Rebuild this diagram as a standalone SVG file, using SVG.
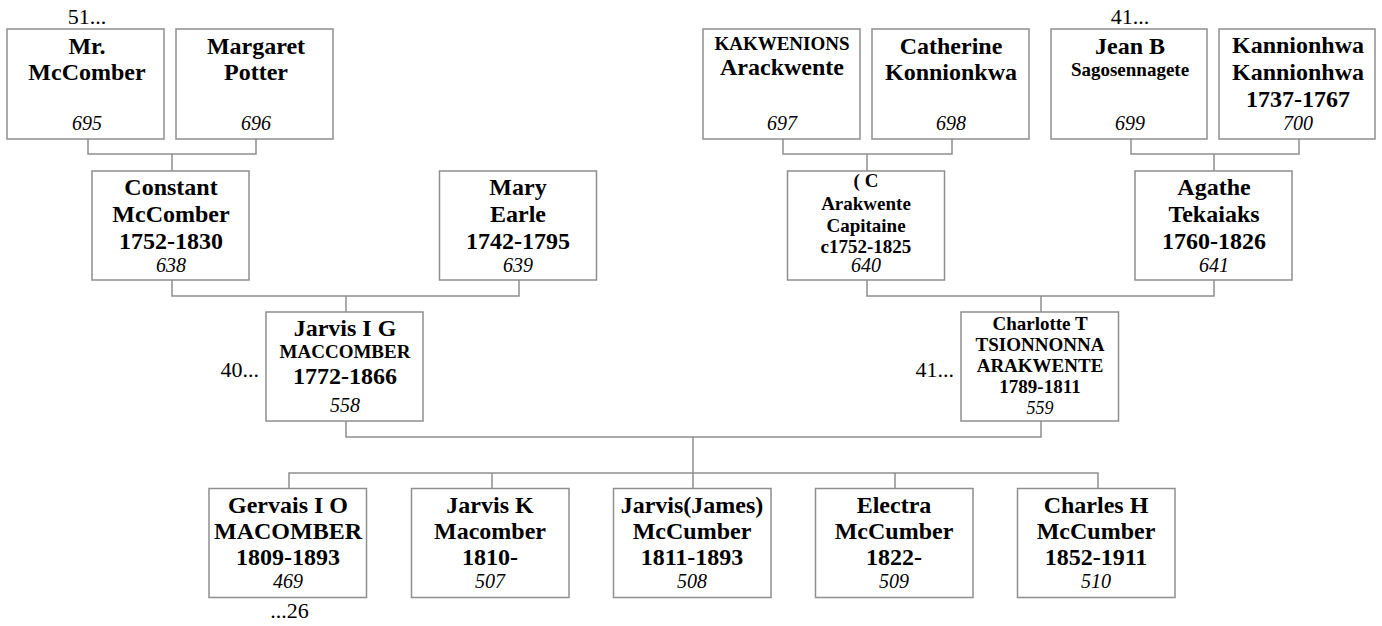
<svg xmlns="http://www.w3.org/2000/svg" width="1382" height="626" viewBox="0 0 1382 626">
<style>
.box{fill:#fff;stroke:#8f8f8f;stroke-width:1.5}
.ln{fill:none;stroke:#8f8f8f;stroke-width:1.5}
text{font-family:"Liberation Serif","Times New Roman",serif;fill:#000;text-anchor:middle}
.b{font-weight:bold;font-size:24px}
.s{font-weight:bold;font-size:19px}
.n{font-style:italic;font-size:20px}
.lab{font-size:22px}
</style>
<rect width="1382" height="626" fill="#fff"/>
<g id="connectors">
<path class="ln" d="M88 139V154H256V139M172 154V171"/>
<path class="ln" d="M783 139V154H952V139M867 154V171"/>
<path class="ln" d="M1131 139V154H1299V139M1214 154V171"/>
<path class="ln" d="M172 280V296H519V280M346 296V312"/>
<path class="ln" d="M867 280V296H1214V280M1041 296V312"/>
<path class="ln" d="M346 421V437H1041V421M693 437V473"/>
<path class="ln" d="M289 488V473H1098V488M492 473V488M693 473V488M895 473V488"/>
</g>
<g id="n695"><rect class="box" x="7" y="29" width="157" height="110"/><text class="b" x="87" y="54">Mr.</text><text class="b" x="87" y="80">McComber</text><text class="n" x="87" y="130">695</text></g>
<g id="n696"><rect class="box" x="176" y="29" width="157" height="110"/><text class="b" x="256" y="54">Margaret</text><text class="b" x="256" y="80">Potter</text><text class="n" x="256" y="130">696</text></g>
<g id="n697"><rect class="box" x="703" y="29" width="157" height="110"/><text class="s" x="782" y="49.5">KAKWENIONS</text><text class="b" x="782" y="74.5">Arackwente</text><text class="n" x="782" y="130">697</text></g>
<g id="n698"><rect class="box" x="872" y="29" width="157" height="110"/><text class="b" x="951" y="54">Catherine</text><text class="b" x="951" y="80">Konnionkwa</text><text class="n" x="951" y="130">698</text></g>
<g id="n699"><rect class="box" x="1051" y="29" width="156" height="110"/><text class="b" x="1130" y="53.5">Jean B</text><text class="s" x="1130" y="76">Sagosennagete</text><text class="n" x="1130" y="130">699</text></g>
<g id="n700"><rect class="box" x="1219" y="29" width="156" height="110"/><text class="b" x="1298" y="53">Kannionhwa</text><text class="b" x="1298" y="80">Kannionhwa</text><text class="b" x="1298" y="106.5">1737-1767</text><text class="n" x="1298" y="130">700</text></g>
<g id="n638"><rect class="box" x="92" y="171" width="157" height="109"/><text class="b" x="171" y="195">Constant</text><text class="b" x="171" y="222">McComber</text><text class="b" x="171" y="249">1752-1830</text><text class="n" x="171" y="272">638</text></g>
<g id="n639"><rect class="box" x="439.5" y="171" width="157" height="109"/><text class="b" x="518" y="195">Mary</text><text class="b" x="518" y="222">Earle</text><text class="b" x="518" y="249">1742-1795</text><text class="n" x="518" y="272">639</text></g>
<g id="n640"><rect class="box" x="787.5" y="171" width="157" height="109"/><text class="s" x="866" y="186.5">( C</text><text class="s" x="866" y="210">Arakwente</text><text class="s" x="866" y="231.5">Capitaine</text><text class="s" x="866" y="252.5">c1752-1825</text><text class="n" x="866" y="272">640</text></g>
<g id="n641"><rect class="box" x="1135" y="171" width="157" height="109"/><text class="b" x="1214" y="195">Agathe</text><text class="b" x="1214" y="222">Tekaiaks</text><text class="b" x="1214" y="249">1760-1826</text><text class="n" x="1214" y="272">641</text></g>
<g id="n558"><rect class="box" x="266" y="312" width="157" height="109"/><text class="b" x="345" y="336">Jarvis I G</text><text class="s" x="345" y="358">MACCOMBER</text><text class="b" x="345" y="384">1772-1866</text><text class="n" x="345" y="411.5">558</text></g>
<g id="n559"><rect class="box" x="961" y="312" width="157.5" height="109"/><text class="s" x="1040" y="330">Charlotte T</text><text class="s" x="1040" y="351">TSIONNONNA</text><text class="s" x="1040" y="372">ARAKWENTE</text><text class="s" x="1040" y="392.5">1789-1811</text><text class="n" x="1040" y="413.5" style="font-size:18px">559</text></g>
<g id="n469"><rect class="box" x="209" y="488.5" width="157.5" height="109"/><text class="b" x="288" y="513">Gervais I O</text><text class="b" x="288" y="539">MACOMBER</text><text class="b" x="288" y="565">1809-1893</text><text class="n" x="288" y="588">469</text></g>
<g id="n507"><rect class="box" x="411.5" y="488.5" width="157.5" height="109"/><text class="b" x="490" y="513">Jarvis K</text><text class="b" x="490" y="539">Macomber</text><text class="b" x="490" y="565">1810-</text><text class="n" x="490" y="588">507</text></g>
<g id="n508"><rect class="box" x="613.5" y="488.5" width="157.5" height="109"/><text class="b" x="692" y="513">Jarvis(James)</text><text class="b" x="692" y="539">McCumber</text><text class="b" x="692" y="565">1811-1893</text><text class="n" x="692" y="588">508</text></g>
<g id="n509"><rect class="box" x="815.5" y="488.5" width="157.5" height="109"/><text class="b" x="894" y="513">Electra</text><text class="b" x="894" y="539">McCumber</text><text class="b" x="894" y="565">1822-</text><text class="n" x="894" y="588">509</text></g>
<g id="n510"><rect class="box" x="1017.5" y="488.5" width="157.5" height="109"/><text class="b" x="1096" y="513">Charles H</text><text class="b" x="1096" y="539">McCumber</text><text class="b" x="1096" y="565">1852-1911</text><text class="n" x="1096" y="588">510</text></g>
<g id="labels">
<text class="lab" x="87" y="24">51...</text>
<text class="lab" x="1130" y="24">41...</text>
<text class="lab" x="259" y="377" style="text-anchor:end">40...</text>
<text class="lab" x="954" y="377" style="text-anchor:end">41...</text>
<text class="lab" x="289.5" y="618">...26</text>
</g>
</svg>
